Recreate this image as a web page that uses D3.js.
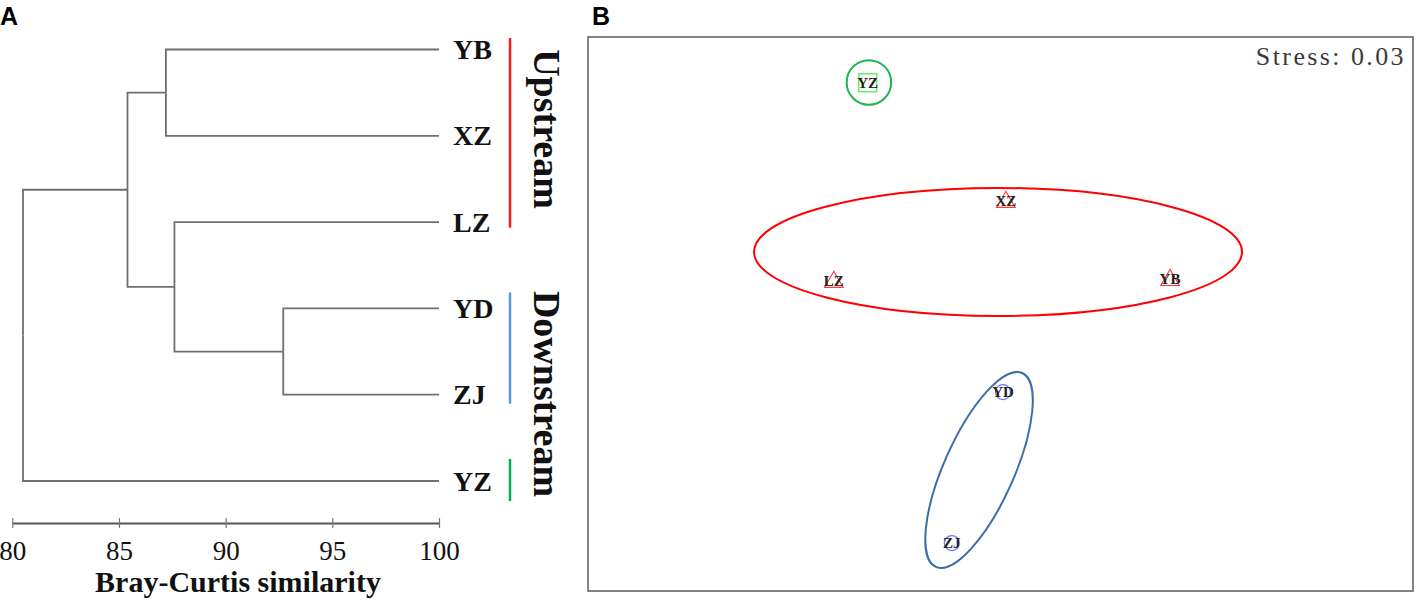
<!DOCTYPE html>
<html>
<head>
<meta charset="utf-8">
<script src="https://cdn.jsdelivr.net/npm/d3@7"></script>
<style>
  html, body { margin: 0; padding: 0; background: #fff; }
  svg { display: block; }
</style>
</head>
<body>
<svg id="chart" width="1418" height="603"></svg>
<script>
// ---------- Panel A data: cluster dendrogram ----------
const leaves = ["YB", "XZ", "LZ", "YD", "ZJ", "YZ"];
const mergeIds = ["n1", "n2", "n3", "n4", "n5"];
const mergeLeft = ["YB", "YD", "LZ", "n1", "n4"];
const mergeRight = ["XZ", "ZJ", "n2", "n3", "YZ"];
const mergeSimilarity = [87.2, 92.7, 87.6, 85.4, 80.5];
const simTicks = [80, 85, 90, 95, 100];
const groupNames = ["Upstream", "Downstream", ""];
const groupMembers = [["YB", "XZ", "LZ"], ["YD", "ZJ"], ["YZ"]];
const groupColors = ["#ff1a1a", "#5b9bd5", "#00b050"];

// ---------- Panel B data: NMDS ordination ----------
const sites = ["YZ", "XZ", "LZ", "YB", "YD", "ZJ"];
const nmds1 = [-0.322, 0.013, -0.404, 0.411, 0.006, -0.118];
const nmds2 = [0.835, 0.408, 0.119, 0.126, -0.282, -0.827];
const siteGroup = [2, 0, 0, 0, 1, 1];
const stressValue = "0.03";
// group ellipses (center & radii in NMDS units, angle in degrees)
const ellCx = [-0.006, -0.052, -0.319];
const ellCy = [0.224, -0.563, 0.836];
const ellRx = [0.5915, 0.085, 0.054];
const ellRy = [0.231, 0.383, 0.0805];
const ellAngle = [0, 24, 0];
const ellColors = ["#ff0000", "#3a6fa8", "#1bb552"];
const markerColors = ["#ff3b3b", "#6f6fff", "#66ee66"];

const svg = d3.select("#chart");

// Panel letters
svg.append("text").attr("x", 0).attr("y", 25).text("A")
  .attr("font-family", "Liberation Sans, Arial, sans-serif").attr("font-weight", "bold").attr("font-size", 25);
svg.append("text").attr("x", 592).attr("y", 25).text("B")
  .attr("font-family", "Liberation Sans, Arial, sans-serif").attr("font-weight", "bold").attr("font-size", 25);

// ---------- Panel A ----------
const xSim = d3.scaleLinear().domain([80, 100]).range([12.3, 439]);
const yLeaf = d3.scalePoint().domain(leaves).range([49.5, 481]);

// build tree
const nodes = {};
leaves.forEach(l => nodes[l] = { name: l, sim: 100 });
mergeIds.forEach((id, i) => {
  nodes[id] = { name: id, sim: mergeSimilarity[i], children: [nodes[mergeLeft[i]], nodes[mergeRight[i]]] };
});
const root = d3.hierarchy(nodes[mergeIds[mergeIds.length - 1]]);
root.eachAfter(n => {
  n.px = xSim(n.data.sim);
  n.py = n.children ? d3.mean(n.children, c => c.py) : yLeaf(n.data.name);
});

const gA = svg.append("g");
gA.selectAll("path.link").data(root.links()).join("path")
  .attr("class", "link")
  .attr("fill", "none")
  .attr("stroke", "#6f6f6f")
  .attr("stroke-width", 1.8)
  .attr("d", l => `M${l.source.px},${l.source.py}V${l.target.py}H${l.target.px}`);

// leaf labels
gA.selectAll("text.leaf").data(root.leaves()).join("text")
  .attr("class", "leaf")
  .attr("x", 453).attr("y", d => d.py + 9.5)
  .attr("font-family", "Liberation Serif, Times New Roman, serif")
  .attr("font-weight", "bold").attr("font-size", 28)
  .attr("fill", "#111")
  .text(d => d.data.name);

// group bars and labels
const barExt = [[-11.5, 5.5], [-16, 9], [-22, 20]];
groupMembers.forEach((m, i) => {
  const y0 = yLeaf(m[0]) + barExt[i][0];
  const y1 = yLeaf(m[m.length - 1]) + barExt[i][1];
  gA.append("line").attr("x1", 510).attr("x2", 510).attr("y1", y0).attr("y2", y1)
    .attr("stroke", groupColors[i]).attr("stroke-width", 2.5);
});
const groupLabelY = [129, 394];
[0, 1].forEach(i => {
  gA.append("text")
    .attr("transform", `translate(534,${groupLabelY[i]}) rotate(90)`)
    .attr("text-anchor", "middle")
    .attr("font-family", "Liberation Serif, Times New Roman, serif")
    .attr("font-weight", "bold").attr("font-size", 38)
    .attr("fill", "#111")
    .text(groupNames[i]);
});

// axis
const axisY = 523;
const axisG = gA.append("g").attr("transform", `translate(0,${axisY})`)
  .call(d3.axisBottom(xSim).tickValues(simTicks).tickSizeOuter(0).tickFormat(d3.format("d")));
axisG.select(".domain").attr("stroke", "#555").attr("stroke-width", 2);
axisG.selectAll(".tick line").attr("y1", -5).attr("y2", 5).attr("stroke", "#777").attr("stroke-width", 1.2);
axisG.selectAll(".tick text")
  .attr("y", 37).attr("dy", 0)
  .attr("font-family", "Liberation Serif, Times New Roman, serif")
  .attr("font-size", 27).attr("fill", "#111");
gA.append("text").attr("x", 238).attr("y", 592).attr("text-anchor", "middle")
  .attr("font-family", "Liberation Serif, Times New Roman, serif")
  .attr("font-weight", "bold").attr("font-size", 30).attr("fill", "#111")
  .text("Bray-Curtis similarity");

// ---------- Panel B ----------
const box = { x0: 588, x1: 1413, y0: 37, y1: 591 };
const xN = d3.scaleLinear().domain([-1, 1]).range([box.x0, box.x1]);
const yN = d3.scaleLinear().domain([-1, 1]).range([box.y1, box.y0]);
const gB = svg.append("g");
gB.append("rect").attr("x", box.x0).attr("y", box.y0)
  .attr("width", box.x1 - box.x0).attr("height", box.y1 - box.y0)
  .attr("fill", "none").attr("stroke", "#666").attr("stroke-width", 1.6);

gB.append("text").attr("x", 1406).attr("y", 65).attr("text-anchor", "end")
  .attr("font-family", "Liberation Serif, Times New Roman, serif")
  .attr("font-size", 26).attr("fill", "#3a3a3a")
  .attr("letter-spacing", 2.4)
  .text("Stress: " + stressValue);

// ellipses
gB.selectAll("ellipse.grp").data(ellCx.map((c, i) => i)).join("ellipse")
  .attr("class", "grp")
  .attr("cx", i => xN(ellCx[i])).attr("cy", i => yN(ellCy[i]))
  .attr("rx", i => xN(ellRx[i]) - xN(0)).attr("ry", i => yN(0) - yN(ellRy[i]))
  .attr("transform", i => `rotate(${ellAngle[i]},${xN(ellCx[i])},${yN(ellCy[i])})`)
  .attr("fill", "none").attr("stroke", i => ellColors[i]).attr("stroke-width", 2);

// markers
const pts = sites.map((s, i) => ({ s, x: xN(nmds1[i]), y: yN(nmds2[i]), g: siteGroup[i] }));
pts.forEach(p => {
  if (p.g === 0) {
    const tri = d3.symbol().type(d3.symbolTriangle).size(150);
    gB.append("path").attr("d", tri()).attr("transform", `translate(${p.x},${p.y + 1})`)
      .attr("fill", "none").attr("stroke", markerColors[0]).attr("stroke-width", 1.1);
  } else if (p.g === 1) {
    gB.append("circle").attr("cx", p.x).attr("cy", p.y).attr("r", 7.5)
      .attr("fill", "none").attr("stroke", markerColors[1]).attr("stroke-width", 1.2);
  } else {
    gB.append("rect").attr("x", p.x - 9).attr("y", p.y - 9).attr("width", 18).attr("height", 18)
      .attr("fill", "none").attr("stroke", markerColors[2]).attr("stroke-width", 1.5);
  }
});
gB.selectAll("text.site").data(pts).join("text")
  .attr("class", "site")
  .attr("x", d => d.x).attr("y", d => d.y + 5)
  .attr("text-anchor", "middle")
  .attr("font-family", "Liberation Serif, Times New Roman, serif")
  .attr("font-weight", "bold").attr("font-size", 15).attr("fill", "#222")
  .text(d => d.s);
</script>
</body>
</html>
